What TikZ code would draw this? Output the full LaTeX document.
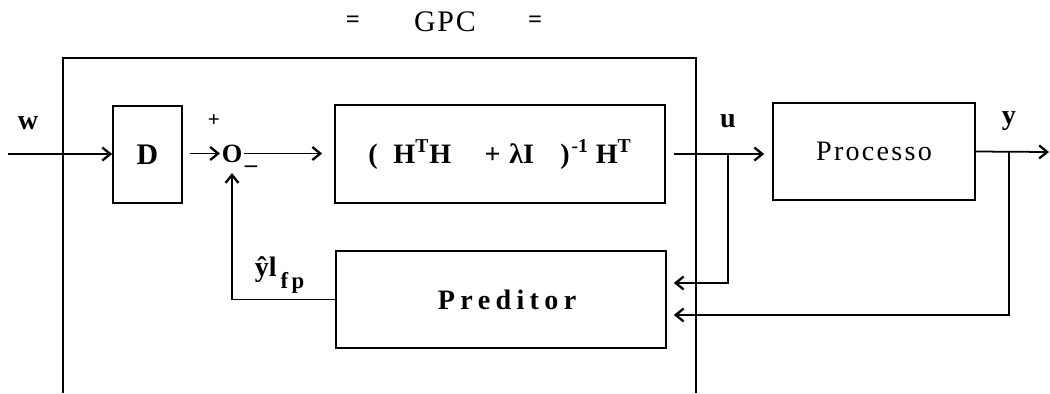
\documentclass[tikz,border=0pt]{standalone}
\usepackage{fontspec}
\setmainfont{Liberation Serif}
\usetikzlibrary{arrows.meta,calc}
\newcommand\fsz[1]{\fontsize{#1}{#1}\selectfont}
\newcommand\spc[1]{\addfontfeatures{LetterSpace=#1}}

\begin{document}
\begin{tikzpicture}[x=0.02cm,y=-0.02cm,
  line width=1pt,
  blk/.style={draw, rectangle, inner sep=0pt},
  sig/.style={-{Straight Barb[length=1.6mm,width=2.6mm,line width=1.3pt]}},
  lbl/.style={font=\fsz{16}\bfseries, inner sep=0pt},
]
\useasboundingbox (0,0) rectangle (1050,393);

% title
\node[font=\fsz{14}\bfseries] (eqL) at (353,22) {=};
\node[font=\fsz{17}\spc{6}] (title) at (445,22) {GPC};
\node[font=\fsz{14}\bfseries] (eqR) at (535,22) {=};

% controller frame (open at the bottom)
\draw (63,393) -- (63,58) -- (696,58) -- (696,393);

% blocks
\node[blk, font=\fsz{17}\bfseries, minimum width=1.38cm, minimum height=1.94cm] (D) at (147.5,154.5) {D};
\node[blk, minimum width=6.6cm, minimum height=1.96cm,
      font=\fsz{16}\bfseries] (K) at (500,154)
  {\raisebox{3pt}{(\hspace{9pt}H\textsuperscript{T}H\hspace{19pt}+\hspace{5pt}λI\hspace{15pt})\hspace{1pt}\textsuperscript{-1}\hspace{4pt}H\textsuperscript{T}}};
\node[blk, minimum width=4.04cm, minimum height=1.94cm,
      font=\fsz{16}\spc{8}] (P) at (874,151.5) {Processo};
\node[blk, minimum width=6.6cm, minimum height=1.94cm,
      font=\fsz{16}\bfseries\spc{19}] (Pr) at (501,299.5) {\hspace{7pt}Preditor};

% summing junction
\node[font=\fsz{15}\bfseries, inner sep=0.5pt] (S) at (232,153.5) {O};

% signal labels
\node[lbl] (wl) at (28,123) {w};
\node[font=\fsz{12}\bfseries, inner sep=0pt] (plus) at (214,121) {+};
\node[font=\fsz{14}\bfseries, inner sep=0pt] (minus) at (251,169) {–};
\node[lbl] (ul) at (728,121) {u};
\node[lbl] (yl) at (1009,121) {y};
\node[lbl, anchor=base west] (yhat) at (254,276)
  {ŷl\raisebox{-7pt}{\fsz{13}\spc{15}\,fp}};

% branch points and free ends
\coordinate (win) at (8,154);
\coordinate (ub) at (728,154);
\coordinate (ubend) at (728,283);
\coordinate (yb) at (1009,152);
\coordinate (ybend) at (1009,315);
\coordinate (yout) at (1049,152);

% connectors
\draw[sig] (win) -- (win -| D.west);
\draw[sig, shorten <=0.14cm] (D.east |- S.west) -- (S.west);
\draw[sig, shorten >=0.24cm] (S.east) -- (S.east -| K.west);
\draw[sig, shorten <=0.16cm, shorten >=0.16cm] (K.east) -- (K.east -| P.west);
\draw[sig] (P.east) -- (yout);
\draw[sig, shorten >=0.14cm] (ub) -- (ubend) -- (Pr.east |- ubend);
\draw[sig, shorten >=0.14cm] (yb) -- (ybend) -- (Pr.east |- ybend);
\draw[sig, shorten >=0.18cm] (Pr.west) -| (S.south);
\end{tikzpicture}
\end{document}
